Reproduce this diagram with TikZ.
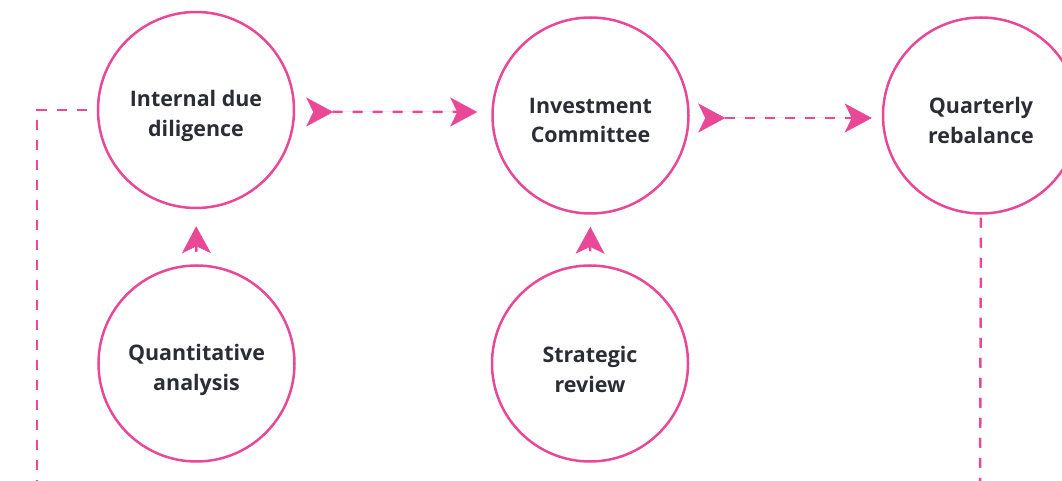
\documentclass[tikz,border=0pt]{standalone}
\usepackage{fontspec}
\setmainfont{Open Sans}
\usetikzlibrary{arrows.meta,calc}
\definecolor{pinkc}{RGB}{232,72,150}
\definecolor{textc}{RGB}{42,45,51}
\begin{document}
\begin{tikzpicture}[x=1bp,y=-1bp,
  stage/.style={circle,draw=pinkc,line width=2.5bp,minimum size=196bp,inner sep=0pt},
  stagetext/.style={align=center,text=textc,inner sep=0pt,yshift=-6bp,font=\fontsize{21.5}{30}\selectfont\bfseries},
  flow/.style={draw=pinkc,line width=2.5bp,dash pattern=on 10bp off 10bp},
  duo/.style={flow,{Stealth[reversed,length=27bp,width=29bp,inset=7bp,line width=0.5bp]}-{Stealth[length=27bp,width=29bp,inset=7bp,line width=0.5bp]},fill=pinkc},
  up/.style={draw=pinkc,fill=pinkc,line width=2.5bp,-{Stealth[length=27bp,width=29bp,inset=7bp,line width=0.5bp]}}]
\useasboundingbox (0,0) rectangle (1062,481);
\node[stage,label={[stagetext]center:Internal due\\diligence}] (i) at (196,110) {};
\node[stage,label={[stagetext,yshift=1bp]center:Investment\\Committee}] (c) at (590.5,115.5) {};
\node[stage,label={[stagetext,yshift=1bp]center:Quarterly\\rebalance}] (r) at (981,115.5) {};
\node[stage,label={[stagetext]center:Quantitative\\analysis}] (q) at (196.5,363.5) {};
\node[stage,label={[stagetext]center:Strategic\\review}] (s) at (590,363.5) {};
\draw[duo,shorten <=11bp,shorten >=14bp] ([yshift=-2bp]i.east) -- ([yshift=3.5bp]c.west);
\draw[duo,shorten <=8.5bp,shorten >=10bp] ([yshift=-2.5bp]c.east) -- ([yshift=-2.5bp]r.west);
\draw[up,shorten <=12.5bp,shorten >=17bp] (q.north) -- (i.south);
\draw[up,shorten <=13bp,shorten >=12bp] (s.north) -- (c.south);
\coordinate (lb) at (37,490);
\coordinate (rb) at (980,490);
\draw[flow,shorten <=10bp] (i.west) -- (lb |- i.west) -- (lb);
\draw[flow,shorten <=3bp] (r.south) -- (rb);
\end{tikzpicture}
\end{document}
